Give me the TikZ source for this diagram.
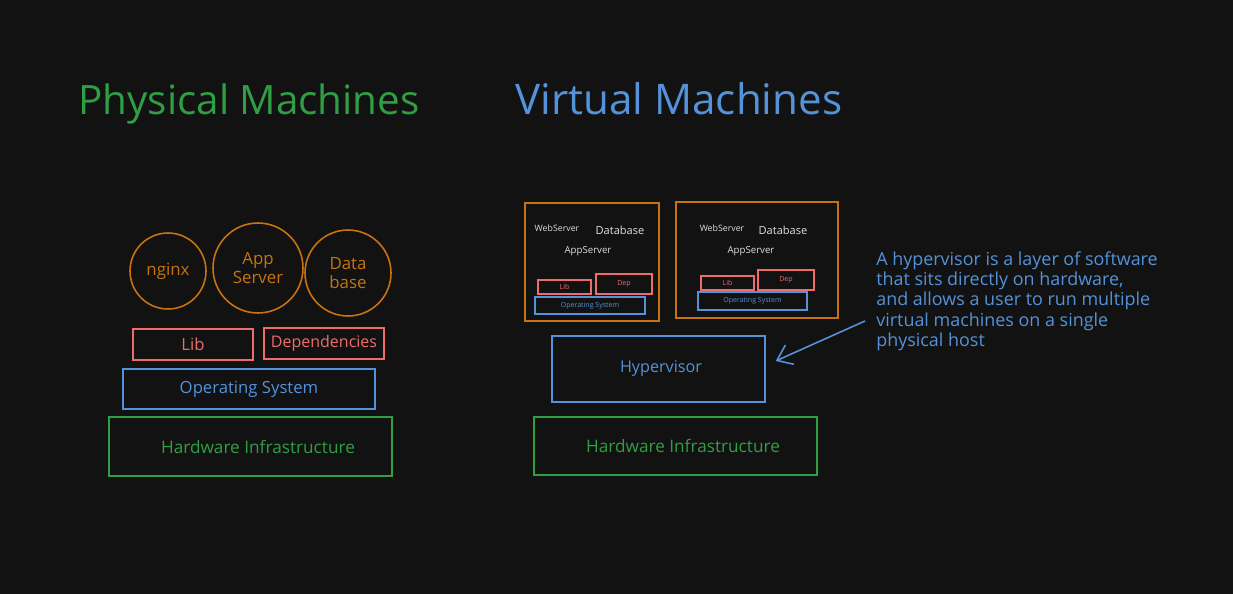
\documentclass[tikz,border=0pt]{standalone}
\usepackage{fontspec}
\setmainfont{Open Sans}
\usetikzlibrary{positioning, calc, arrows.meta}
\definecolor{bgdark}{RGB}{18,18,18}
\definecolor{hwgreen}{RGB}{47,158,68}
\definecolor{osblue}{RGB}{84,146,218}
\definecolor{apporange}{RGB}{200,115,16}
\definecolor{libred}{RGB}{240,108,108}
\definecolor{labelgray}{RGB}{222,222,222}
\tikzstyle{arrow} = [line width=0.9pt,-{Straight Barb[length=8pt,width=12pt]}]
\tikzstyle{layer} = [draw, line width=0.8pt, inner sep=0pt]
\tikzstyle{app} = [draw=apporange, text=apporange, line width=0.9pt, circle, inner sep=0pt, align=center, font=\fontsize{9.6}{11}\selectfont]

\begin{document}
\begin{tikzpicture}[x=0.02cm, y=-0.02cm]
% Background
\fill[bgdark] (0,0) rectangle (1233,594);

% Titles
\node[text=hwgreen, font=\fontsize{23}{25}\selectfont] (titlePM) at (249,104) {Physical Machines};
\node[text=osblue, font=\fontsize{24}{26}\selectfont] (titleVM) at (679,99) {Virtual Machines};

% Physical machines stack
\node[layer, draw=hwgreen, text=hwgreen, minimum width=5.66cm, minimum height=1.18cm, font=\fontsize{9.8}{10}\selectfont] (hwPM) at (250.5,446.5) {\hspace{0.3cm}Hardware Infrastructure};
\node[layer, draw=osblue, text=osblue, minimum width=5.04cm, minimum height=0.8cm, font=\fontsize{9.5}{10}\selectfont] (osPM) at (249,389) {Operating System};
\node[layer, draw=libred, text=libred, minimum width=2.4cm, minimum height=0.62cm, font=\fontsize{9.5}{10}\selectfont] (libPM) at (193,344.5) {Lib};
\node[layer, draw=libred, text=libred, minimum width=2.4cm, minimum height=0.62cm, font=\fontsize{9.1}{10}\selectfont] (depPM) at (324,343.5) {Dependencies};

\node[app, minimum size=1.52cm] (nginx) at (168,271) {nginx};
\node[app, minimum size=1.8cm] (appsrv) at (258,268) {App\\Server};
\node[app, minimum size=1.72cm] (dbase) at (348,273) {Data\\base};

% Virtual machine 1
\node[layer, draw=apporange, minimum width=2.68cm, minimum height=2.36cm] (vmA) at (592,262) {};
\node[text=labelgray, font=\fontsize{5}{6}\selectfont] (webA) at (557,228) {WebServer};
\node[text=labelgray, font=\fontsize{6.3}{7}\selectfont] (dbA) at (620,230) {Database};
\node[text=labelgray, font=\fontsize{5.5}{6}\selectfont] (appA) at (588,251) {AppServer};
\node[layer, draw=libred, text=libred, minimum width=1.06cm, minimum height=0.28cm, font=\fontsize{4}{5}\selectfont] (libA) at (564.5,287) {Lib};
\node[layer, draw=libred, text=libred, minimum width=1.12cm, minimum height=0.4cm, font=\fontsize{4}{5}\selectfont] (depA) at (624,284) {Dep};
\node[layer, draw=osblue, text=osblue, minimum width=2.2cm, minimum height=0.34cm, font=\fontsize{4}{5}\selectfont] (osA) at (590,305.5) {Operating System};

% Virtual machine 2
\node[layer, draw=apporange, minimum width=3.24cm, minimum height=2.32cm] (vmB) at (757,260) {};
\node[text=labelgray, font=\fontsize{5}{6}\selectfont] (webB) at (722,228) {WebServer};
\node[text=labelgray, font=\fontsize{6.3}{7}\selectfont] (dbB) at (783,230) {Database};
\node[text=labelgray, font=\fontsize{5.5}{6}\selectfont] (appB) at (751,251) {AppServer};
\node[layer, draw=libred, text=libred, minimum width=1.06cm, minimum height=0.28cm, font=\fontsize{4}{5}\selectfont] (libB) at (727.5,283) {Lib};
\node[layer, draw=libred, text=libred, minimum width=1.12cm, minimum height=0.4cm, font=\fontsize{4}{5}\selectfont] (depB) at (786,280) {Dep};
\node[layer, draw=osblue, text=osblue, minimum width=2.18cm, minimum height=0.36cm, font=\fontsize{4}{5}\selectfont] (osB) at (752.5,301) {Operating System};

% Hypervisor and hardware
\node[layer, draw=osblue, text=osblue, minimum width=4.26cm, minimum height=1.32cm, font=\fontsize{9.2}{10}\selectfont] (hyper) at (658.5,369) {\hspace{0.1cm}Hypervisor};
\node[layer, draw=hwgreen, text=hwgreen, minimum width=5.66cm, minimum height=1.16cm, font=\fontsize{9.8}{10}\selectfont] (hwVM) at (675.5,446) {\hspace{0.3cm}Hardware Infrastructure};

% Note
\node[text=osblue, anchor=north west, align=left, inner sep=0pt, font=\fontsize{10.2}{11.6}\selectfont] (note) at (876,251) {A hypervisor is a layer of software\\that sits directly on hardware,\\and allows a user to run multiple\\virtual machines on a single\\physical host};
\coordinate (noteTail) at (865,321);
\draw[arrow, osblue] (noteTail) -- ($(hyper.east)+(10,-8)$);
\end{tikzpicture}
\end{document}
